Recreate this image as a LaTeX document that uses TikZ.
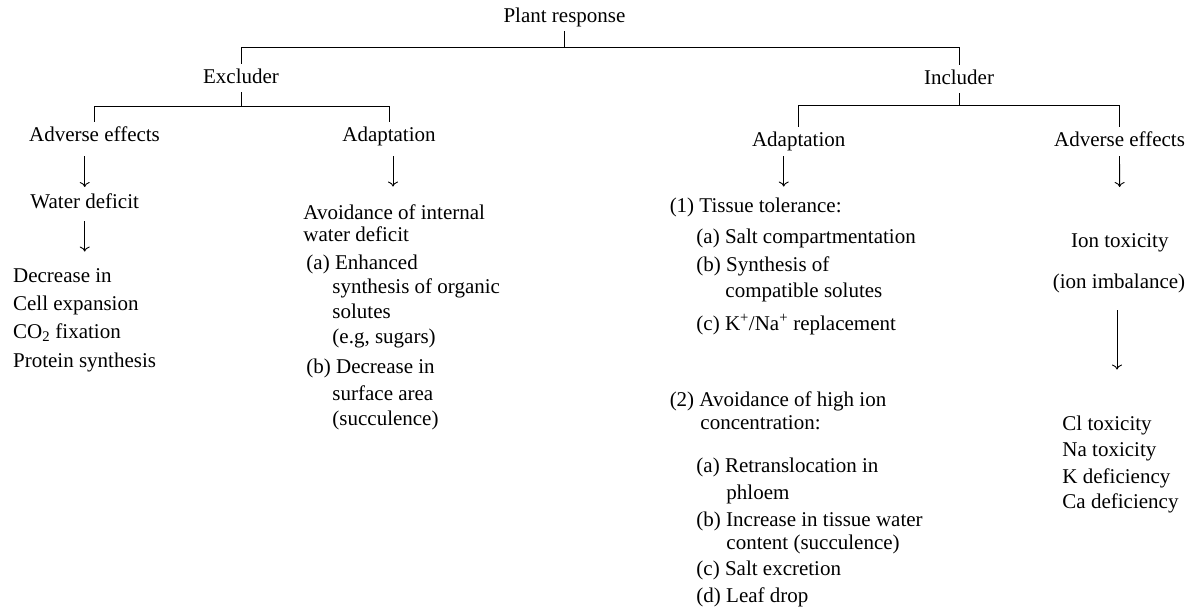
\documentclass[tikz,border=0pt]{standalone}
\usepackage{fontspec}
\setmainfont{Liberation Serif}
\usetikzlibrary{arrows.meta}

\begin{document}
\begin{tikzpicture}[x=1pt, y=-1pt, >={To[length=5pt,width=10pt]}, line width=0.9pt]

\tikzstyle{tree}=[inner sep=0pt, outer xsep=0pt, outer ysep=5pt, text height=14pt, text depth=4pt, font=\fontsize{21}{24}\selectfont]
\tikzstyle{item}=[anchor=west, inner sep=0pt, text height=14pt, text depth=4pt, font=\fontsize{21}{24}\selectfont]
\tikzstyle{arrow}=[->, shorten <=5pt]

\useasboundingbox (0,0) rectangle (1189,608);

\node (P) [tree] at (564.5,17) {Plant response};
\node (E) [tree] at (241,78) {Excluder};
\node (I) [tree] at (959,79) {Includer};
\node (EA) [tree] at (94.5,136) {Adverse effects};
\node (EB) [tree] at (389,136) {Adaptation};
\node (IA) [tree] at (798.7,141) {Adaptation};
\node (IB) [tree] at (1119.5,141) {Adverse effects};
\node (W) [tree] at (84.7,203) {Water deficit};
\node (T) [tree] at (1119.8,242) {Ion toxicity};
\node (U) [tree] at (1119,283) {(ion imbalance)};

\node (D1) [item] at (12.7,277) {Decrease in};
\node (D2) [item] at (12.7,305) {Cell expansion};
\node (D3) [item] at (12.7,333) {CO\textsubscript{2} fixation};
\node (D4) [item] at (12.7,362) {Protein synthesis};

\node (V1) [item] at (303,214) {Avoidance of internal};
\node (V2) [item] at (303,236) {water deficit};
\node (V3) [item] at (306,264) {(a) Enhanced};
\node (V4) [item] at (332,288) {synthesis of organic};
\node (V5) [item] at (332,313) {solutes};
\node (V6) [item] at (332,338) {(e.g, sugars)};
\node (V7) [item] at (306,368) {(b) Decrease in};
\node (V8) [item] at (332,395) {surface area};
\node (V9) [item] at (332,420) {(succulence)};

\node (R1) [item] at (669.3,207.5) {(1) Tissue tolerance:};
\node (R2) [item] at (696,238) {(a) Salt compartmentation};
\node (R3) [item] at (696,266) {(b) Synthesis of};
\node (R4) [item] at (725,292.5) {compatible solutes};
\node (R5) [item] at (696,325.5) {(c) K\textsuperscript{+}/Na\textsuperscript{+} replacement};
\node (R6) [item] at (669.3,401) {(2) Avoidance of high ion};
\node (R7) [item] at (700,424) {concentration:};
\node (R8) [item] at (696,467) {(a) Retranslocation in};
\node (R9) [item] at (726,494) {phloem};
\node (R10) [item] at (696,521.5) {(b) Increase in tissue water};
\node (R11) [item] at (726,544) {content (succulence)};
\node (R12) [item] at (696,570.5) {(c) Salt excretion};
\node (R13) [item] at (696,597.5) {(d) Leaf drop};

\node (C1) [item] at (1062,425) {Cl toxicity};
\node (C2) [item] at (1062,451) {Na toxicity};
\node (C3) [item] at (1062,478) {K deficiency};
\node (C4) [item] at (1062,503) {Ca deficiency};

\draw (P.south) -- ++(0,16) -| (E.north);
\draw (P.south) -- ++(0,16) -| (I.north);
\draw (E.south) -- ++(0,14) -| (EA.north);
\draw (E.south) -- ++(0,14) -| (EB.north);
\draw (I.south) -- ++(0,12.5) -| (IA.north);
\draw (I.south) -- ++(0,12.5) -| (IB.north);

\draw [arrow, shorten <=6pt, shorten >=2pt] (EA.south -| W) -- (W.north);
\draw [arrow, shorten <=4pt, shorten >=16pt] (W.south) -- (W.south |- D1.north);
\draw [arrow, shorten <=6pt, shorten >=18pt] ([xshift=4pt]EB.south) -- ([xshift=4pt]EB.south |- V1.north);
\draw [arrow, shorten <=1pt, shorten >=11.5pt] ([xshift=-15pt]IA.south) -- ([xshift=-15pt]IA.south |- R1.north);
\draw [arrow, shorten <=1pt, shorten >=41pt] (IB.south) -- (T.north);
\draw [arrow, shorten <=13pt, shorten >=46pt] ([xshift=-2pt]U.south) -- ([xshift=-2pt]U.south |- C1.north);

\end{tikzpicture}
\end{document}
